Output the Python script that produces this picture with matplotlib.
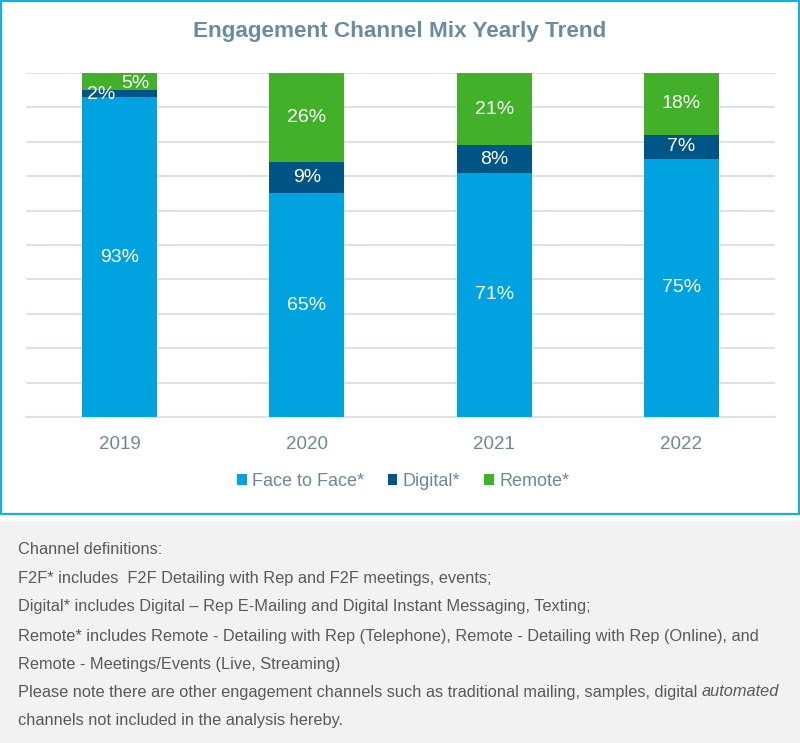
import matplotlib
matplotlib.use("Agg")
import matplotlib.pyplot as plt
from matplotlib.patches import Rectangle
import numpy as np

years = ["2019", "2020", "2021", "2022"]
series_names = ["Face to Face*", "Digital*", "Remote*"]
f2f = [93, 65, 71, 75]
digital = [2, 9, 8, 7]
remote = [5, 26, 21, 18]
colors = ["#00A3E0", "#005587", "#43B02A"]

notes = [
    "Channel definitions:",
    "F2F* includes  F2F Detailing with Rep and F2F meetings, events;",
    "Digital* includes Digital \u2013 Rep E-Mailing and Digital Instant Messaging, Texting;",
    "Remote* includes Remote - Detailing with Rep (Telephone), Remote - Detailing with Rep (Online), and",
    "Remote - Meetings/Events (Live, Streaming)",
    "Please note there are other engagement channels such as traditional mailing, samples, digital ",
    "channels not included in the analysis hereby.",
]
italic_word = "automated"

plt.rcParams['font.family'] = ['Liberation Sans', 'DejaVu Sans']

W, H = 800, 743
fig = plt.figure(figsize=(W / 100, H / 100), dpi=100)

def fx(px):
    return px / W

def fy(py):
    return 1 - py / H

# chart border
fig.patches.append(Rectangle((fx(1), fy(514)), fx(798), 513 / H, transform=fig.transFigure,
                             fill=False, edgecolor="#1AAEE6", linewidth=1.6, zorder=0))
# notes box
fig.patches.append(Rectangle((0, 0), 1, (H - 521) / H, transform=fig.transFigure,
                             facecolor="#F2F2F2", edgecolor="none", zorder=0))

ax = fig.add_axes([fx(26), fy(417), fx(775) - fx(26), (417 - 73) / H])
x = np.arange(len(years))
width = 0.4
b1 = ax.bar(x, f2f, width, color=colors[0], label=series_names[0], zorder=3)
b2 = ax.bar(x, digital, width, bottom=f2f, color=colors[1], label=series_names[1], zorder=3)
bottom3 = [a + b for a, b in zip(f2f, digital)]
b3 = ax.bar(x, remote, width, bottom=bottom3, color=colors[2], label=series_names[2], zorder=3)

ax.set_xlim(-0.5, len(years) - 0.5)
ax.set_ylim(0, 100)
ax.set_yticks(np.arange(0, 101, 10))
ax.yaxis.grid(True, color="#DDE2E7", linewidth=1.5, zorder=0)
ax.tick_params(axis='y', left=False, labelleft=False)
ax.tick_params(axis='x', bottom=False, labelsize=13.5, labelcolor="#6E8798", pad=10)
ax.set_xticks(x)
ax.set_xticklabels(years)
for s in ["top", "right", "left"]:
    ax.spines[s].set_visible(False)
ax.spines["bottom"].set_color("#DDE2E7")
ax.spines["bottom"].set_linewidth(1.5)
ax.set_facecolor("none")

lab_kw = dict(color="white", fontsize=14, ha="center", va="center", zorder=5)
for i in range(len(years)):
    ax.text(x[i], f2f[i] / 2, f"{f2f[i]}%", **lab_kw)
    if i == 0:
        ax.annotate(f"{digital[i]}%", (x[i], f2f[i] + digital[i] / 2), xytext=(-13, -0.5),
                    textcoords="offset points", **lab_kw)
        ax.annotate(f"{remote[i]}%", (x[i], bottom3[i] + remote[i] / 2), xytext=(11, -1.5),
                    textcoords="offset points", **lab_kw)
    else:
        ax.text(x[i], f2f[i] + digital[i] / 2, f"{digital[i]}%", **lab_kw)
        ax.text(x[i], bottom3[i] + remote[i] / 2, f"{remote[i]}%", **lab_kw)

fig.text(0.5, fy(31), "Engagement Channel Mix Yearly Trend", ha="center", va="center",
         fontsize=16.2, fontweight="bold", color="#6A8CA3")

leg = fig.legend(handles=[b1, b2, b3], loc="center", bbox_to_anchor=(fx(403), fy(481)),
                 ncol=3, frameon=False, fontsize=13, handlelength=0.55, handleheight=0.55,
                 handletextpad=0.3, columnspacing=1.3, labelcolor="#6E8798")

note_y = [550, 578, 607, 636, 664, 692, 720]
fs = 11.75
txts = []
for t, yy in zip(notes, note_y):
    txts.append(fig.text(fx(18), fy(yy), t, ha="left", va="center", fontsize=fs, color="#595959"))

fig.canvas.draw()
r = fig.canvas.get_renderer()
bb = txts[5].get_window_extent(renderer=r)
fig.text(bb.x1 / W, fy(note_y[5]), italic_word, ha="left", va="center", fontsize=fs,
         color="#595959", fontstyle="italic")

fig.savefig("out.png", dpi=100)
